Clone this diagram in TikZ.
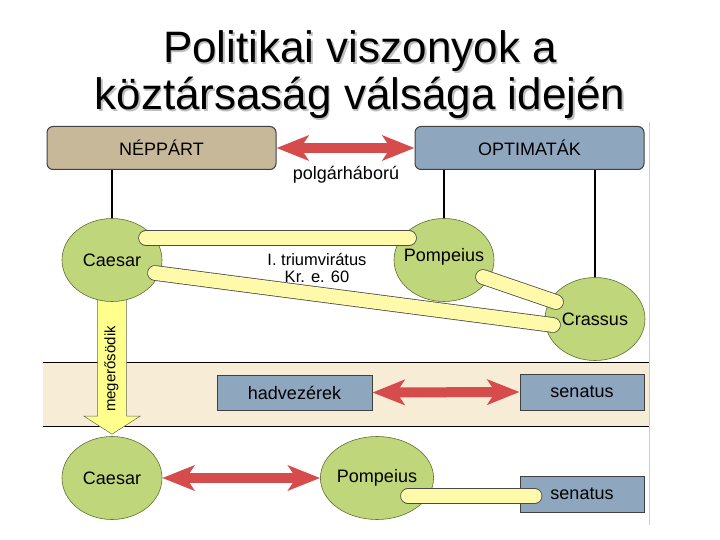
\documentclass[tikz,border=0pt]{standalone}
\usepackage{fontspec}
\setmainfont{Liberation Sans}
\usetikzlibrary{shapes.geometric,arrows.meta,calc,backgrounds}
\definecolor{tanc}{RGB}{200,184,154}
\definecolor{bluec}{RGB}{143,167,190}
\definecolor{greenc}{RGB}{192,214,122}
\definecolor{greenline}{RGB}{95,110,50}
\definecolor{bandc}{RGB}{247,236,214}
\definecolor{barc}{RGB}{255,250,170}
\definecolor{arrowy}{RGB}{255,255,140}
\definecolor{redc}{RGB}{214,76,76}
\tikzset{
  txt/.style={font=\fontsize{18}{20}\selectfont},
  partybox/.style={draw=black!75, line width=1pt, rounded corners=6pt, minimum width=229pt, minimum height=43pt, inner sep=0pt, txt},
  sqbox/.style={draw=black!75, line width=1pt, fill=bluec, minimum height=36pt, inner sep=0pt, txt},
  person/.style={ellipse, draw=greenline, line width=0.6pt, fill=greenc, minimum width=100pt, minimum height=83pt, inner sep=0pt, txt},
  ybar/.style={line cap=round, line width=14pt, draw=barc, preaction={draw=black!70, line width=15.6pt, line cap=round}},
  redarr/.style={draw=redc, line width=10pt, {Stealth[length=32pt,width=25pt,inset=8pt]}-{Stealth[length=32pt,width=25pt,inset=8pt]}},
  plink/.style={draw=black, line width=2pt},
  titletxt/.style={font=\fontsize{44}{50}\selectfont, inner sep=0pt, anchor=base},
  tritxt/.style={font=\fontsize{16.5}{17}\selectfont, inner sep=0pt, anchor=base}
}
\begin{document}
\begin{tikzpicture}[x=1pt,y=-1pt]
\useasboundingbox (0,0) rectangle (720,540);
% title
\node[titletxt, text=black!25] (t1s) at (361.5,64.5) {Politikai viszonyok a};
\node[titletxt, text=black!25] (t2s) at (361.5,111.5) {köztársaság válsága idején};
\node[titletxt] (t1) at (360,63) {Politikai viszonyok a};
\node[titletxt] (t2) at (360,110) {köztársaság válsága idején};
% party boxes
\node[partybox, fill=tanc] (nep) at (161.5,148) {NÉPPÁRT};
\node[partybox, fill=bluec] (opt) at (529.5,148) {OPTIMATÁK};
\draw[redarr] (nep.east) -- (opt.west);
\node[txt] (civ) at (346,175) {polgárháború};
% persons
\node[person] (c1) at (112,260) {Caesar};
\node[person] (p1) at (444,260) {};
\node[txt] (p1t) at (444,257) {Pompeius};
\node[person] (cr) at (595,319) {Crassus};
\node[person] (c2) at (112,478) {Caesar};
\node[person] (p2) at (377,478) {Pompeius};
\coordinate (mtip) at ($(c2.north)+(0,-2)$);
\begin{scope}[on background layer]
% band
\fill[bandc] (43,362) rectangle (649,426);
\draw[black, line width=1pt] (43,362) -- (649,362) (43,426) -- (649,426);
\draw[black!20, line width=1pt] (649,122) -- (649,525);
\draw[plink] (c1.north |- nep.south) -- (c1.north);
\draw[plink] (p1.north |- opt.south) -- (p1.north);
\draw[plink] (cr.north |- opt.south) -- (cr.north);
% megerosodik arrow
\draw[fill=arrowy, draw=black!60, line width=0.5pt, line join=miter]
  ($(c1.center)+(-14.5,30)$) -- ($(mtip)+(-14.5,-18)$) -- ($(mtip)+(-28,-18)$) -- (mtip)
  -- ($(mtip)+(28,-18)$) -- ($(mtip)+(14.5,-18)$) -- ($(c1.center)+(14.5,30)$);
\end{scope}
\node[font=\fontsize{15}{16}\selectfont, rotate=90, inner sep=0pt] (meg) at (111.5,369) {megerősödik};
% triumvirate bars
\draw[ybar] ($(c1.center)+(34,-22)$) -- ($(p1.center)+(-35,-22)$);
\draw[ybar] ($(c1.center)+(43,13)$) -- ($(cr.center)+(-42,6)$);
\draw[ybar] ($(p1.center)+(39,17)$) -- ($(cr.center)+(-39,-17)$);
\node[tritxt] (tri1) at (317,265) {I. triumvirátus};
\node[tritxt] (tri2) at (317,282) {Kr. e. 60};
% band boxes
\node[sqbox, minimum width=155pt, minimum height=35pt] (hadv) at (294.5,392.5) {hadvezérek};
\node[sqbox, minimum width=124pt] (sen1) at (582,392) {senatus};
\draw[redarr] (hadv.east) -- (sen1.west);
% bottom row
\node[sqbox, minimum width=124pt] (sen2) at (582,494) {senatus};
\draw[redarr] (c2.east) -- (p2.west);
\draw[ybar] ($(p2.center)+(31,18)$) -- ($(sen2.west)+(15,2)$);
\end{tikzpicture}
\end{document}
